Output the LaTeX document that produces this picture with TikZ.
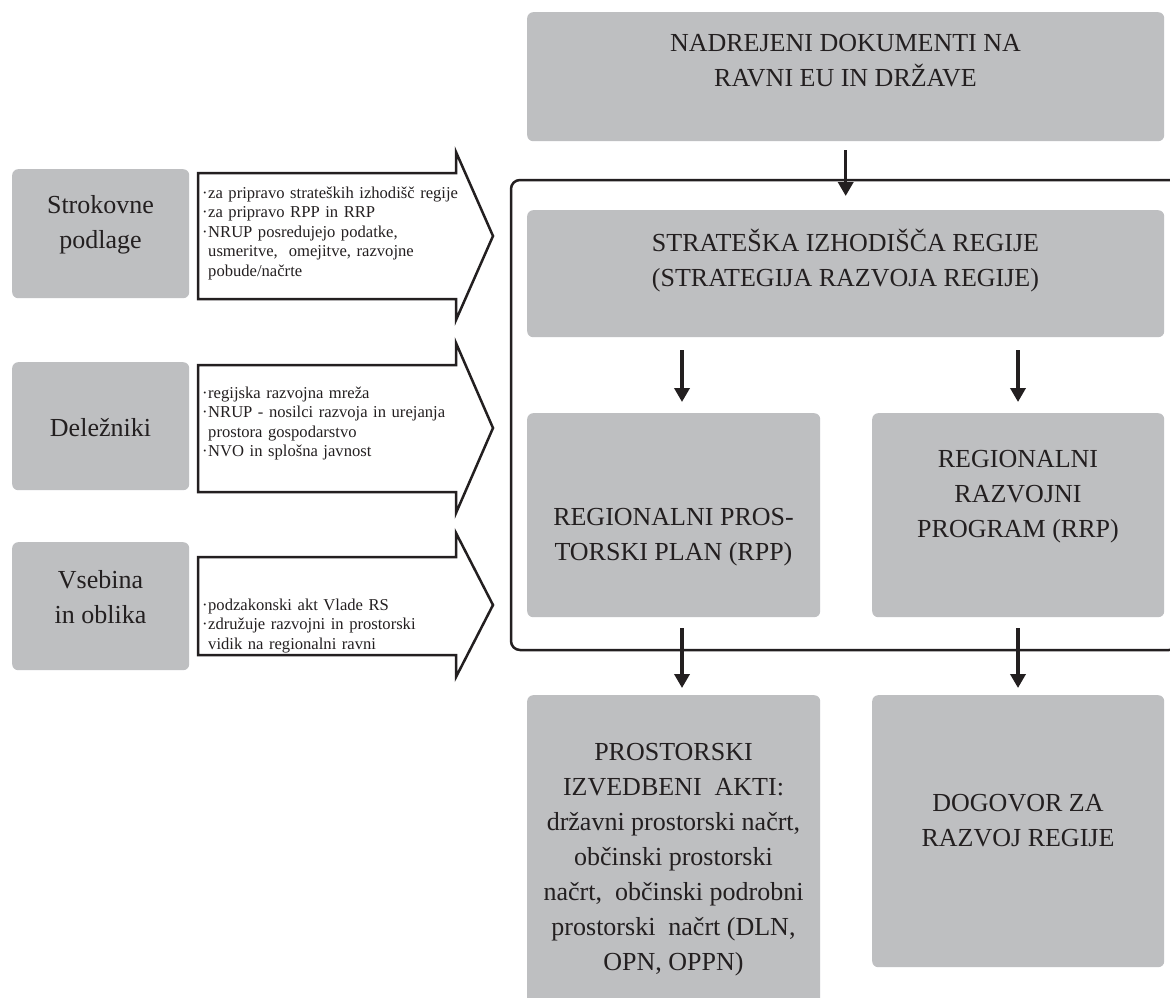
\documentclass[tikz,border=0pt]{standalone}
\usepackage{fontspec}
\setmainfont{Liberation Serif}
\usetikzlibrary{arrows.meta,calc}
\definecolor{boxgray}{RGB}{190,191,193}
\definecolor{ink}{RGB}{35,31,32}
\begin{document}
\begin{tikzpicture}[x=1pt,y=-1pt,
  gbox/.style={fill=boxgray, rounded corners=6pt, draw=none, inner sep=0pt, anchor=north west},
  bigtxt/.style={font=\fontsize{26}{35}\selectfont, align=center, text=ink, inner sep=0pt},
  smalltxt/.style={font=\fontsize{16.6}{19.5}\selectfont, align=left, text=ink, inner sep=0pt, anchor=base west, text width=290pt},
  blockarrow/.style={draw=ink, line width=2.5pt, fill=white, line join=miter},
  conn/.style={draw=ink, line width=3.5pt, -{Triangle[width=15pt,length=14pt]}},
  frame/.style={draw=ink, line width=2.5pt, rounded corners=9pt}]
\useasboundingbox (0,0) rectangle (1170,998);
\clip (0,0) rectangle (1170,998);
\fill[white] (0,0) rectangle (1170,998);
\newcommand{\bul}{\makebox[6pt][l]{·}}
\newcommand{\ind}{\hspace*{6pt}}

% frame
\draw[frame] (511,180) rectangle (1178,650);

% right column boxes
\node[gbox, minimum width=637pt, minimum height=129pt] (top) at (527,12) {};
\node[bigtxt] (toptxt) at (845.5,61) {NADREJENI DOKUMENTI NA\\RAVNI EU IN DRŽAVE};

\node[gbox, minimum width=637pt, minimum height=127pt] (strat) at (527,210) {};
\node[bigtxt] (strattxt) at (845.5,261) {STRATEŠKA IZHODIŠČA REGIJE\\(STRATEGIJA RAZVOJA REGIJE)};

\node[gbox, minimum width=293pt, minimum height=204pt] (rpp) at (527,413) {};
\node[bigtxt] (rpptxt) at (673.5,537) {REGIONALNI PROS-\\TORSKI PLAN (RPP)};

\node[gbox, minimum width=292pt, minimum height=204pt] (rrp) at (872,413) {};
\node[bigtxt] (rrptxt) at (1018,497) {REGIONALNI\\RAZVOJNI\\PROGRAM (RRP)};

\node[gbox, minimum width=293pt, minimum height=320pt] (pia) at (527,695) {};
\node[bigtxt] (piatxt) at (673.5,860) {PROSTORSKI\\IZVEDBENI\ \ AKTI:\\državni prostorski načrt,\\občinski prostorski\\načrt,\ \ občinski podrobni\\prostorski\ \ načrt (DLN,\\OPN, OPPN)};

\node[gbox, minimum width=292pt, minimum height=272pt] (dog) at (872,695) {};
\node[bigtxt] (dogtxt) at (1018,821) {DOGOVOR ZA\\RAZVOJ REGIJE};

% connectors
\coordinate (xl) at (682,0);
\coordinate (xr) at (1018,0);
\draw[conn, shorten <=9pt, shorten >=14pt] (top.south) -- (strat.north);
\draw[conn, shorten <=13pt, shorten >=11pt] (strat.south -| xl) -- (rpp.north -| xl);
\draw[conn, shorten <=13pt, shorten >=11pt] (strat.south -| xr) -- (rrp.north -| xr);
\draw[conn, shorten <=11pt, shorten >=7pt] (rpp.south -| xl) -- (pia.north -| xl);
\draw[conn, shorten <=11pt, shorten >=7pt] (rrp.south -| xr) -- (dog.north -| xr);

% left boxes
\node[gbox, minimum width=177pt, minimum height=129pt] (strok) at (12,169) {};
\node[bigtxt] (stroktxt) at (100.5,225) {Strokovne\\podlage};
\node[gbox, minimum width=177pt, minimum height=128pt] (delez) at (12,362) {};
\node[bigtxt] (deleztxt) at (100.5,428) {Deležniki};
\node[gbox, minimum width=177pt, minimum height=128pt] (vseb) at (12,542) {};
\node[bigtxt] (vsebtxt) at (100.5,597) {Vsebina\\in oblika};

% block arrows
\draw[blockarrow] (198,173) -- (456,173) -- (456,152) -- (493,236) -- (456,320) -- (456,299) -- (198,299) -- cycle;
\draw[blockarrow] (198,365) -- (456,365) -- (456,343) -- (493,428) -- (456,513) -- (456,492) -- (198,492) -- cycle;
\draw[blockarrow] (198,557) -- (456,557) -- (456,533) -- (493,605) -- (456,677) -- (456,655) -- (198,655) -- cycle;

\node[smalltxt] (a1txt) at (202,198) {\bul za pripravo strateških izhodišč regije\\\bul za pripravo RPP in RRP\\\bul NRUP posredujejo podatke,\\\ind usmeritve,\ \ omejitve, razvojne\\\ind pobude/načrte};
\node[smalltxt] (a2txt) at (202,398) {\bul regijska razvojna mreža\\\bul NRUP - nosilci razvoja in urejanja\\\ind prostora gospodarstvo\\\bul NVO in splošna javnost};
\node[smalltxt] (a3txt) at (202,610) {\bul podzakonski akt Vlade RS\\\bul združuje razvojni in prostorski\\\ind vidik na regionalni ravni};
\end{tikzpicture}
\end{document}
